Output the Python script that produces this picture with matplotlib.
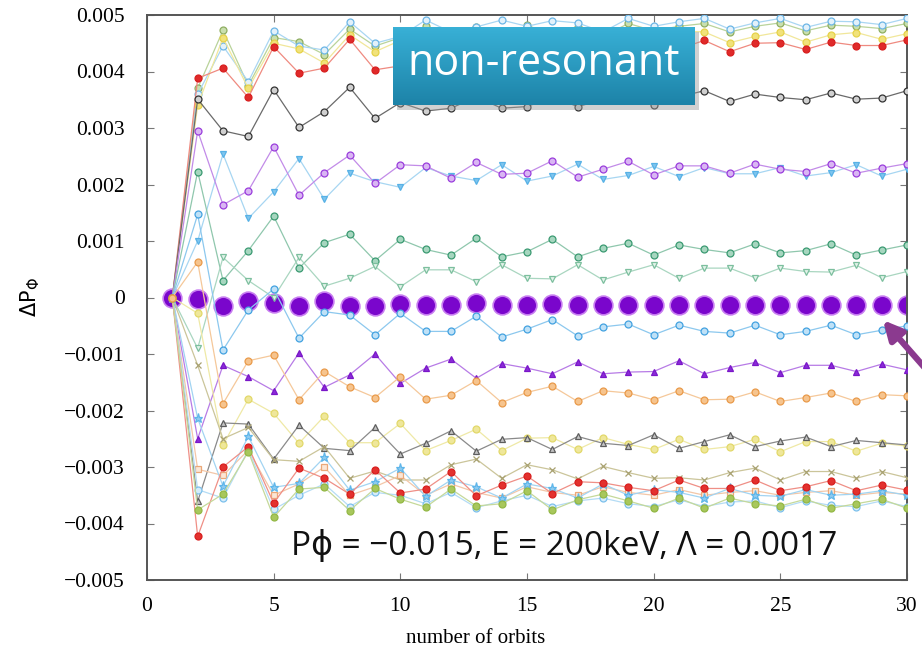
import numpy as np
import matplotlib
matplotlib.use("Agg")
import matplotlib.pyplot as plt
from matplotlib.patches import Rectangle
from matplotlib.colors import LinearSegmentedColormap

# number of orbits
orbits = list(range(1, 31))

# delta P_phi values, in units of 1e-3
top_lightblue = [0, 3.6, 4.45, 3.82, 4.72, 4.45, 4.38, 4.88, 4.5, 4.62, 4.91, 4.7, 4.79, 4.91, 4.8,
                 4.9, 4.86, 4.7, 4.94, 4.8, 4.88, 4.94, 4.75, 4.86, 4.94, 4.78, 4.89, 4.88, 4.83, 4.94]
top_olive = [0, 3.7, 4.73, 3.75, 4.6, 4.53, 4.3, 4.75, 4.45, 4.6, 4.8, 4.62, 4.78, 4.55, 4.82,
             4.65, 4.78, 4.62, 4.85, 4.72, 4.8, 4.85, 4.7, 4.8, 4.86, 4.72, 4.82, 4.8, 4.76, 4.85]
top_yellow = [0, 3.4, 4.6, 3.7, 4.5, 4.4, 4.15, 4.65, 4.35, 4.55, 4.7, 4.5, 4.7, 4.45, 4.7,
              4.55, 4.65, 4.5, 4.7, 4.6, 4.72, 4.7, 4.51, 4.62, 4.7, 4.52, 4.65, 4.69, 4.57, 4.67]
top_red = [0, 3.88, 4.06, 3.54, 4.44, 3.97, 4.06, 4.57, 4.03, 4.1, 4.3, 4.4, 4.55, 4.3, 4.5,
           4.45, 4.35, 4.5, 4.4, 4.52, 4.4, 4.55, 4.35, 4.5, 4.51, 4.39, 4.52, 4.46, 4.46, 4.56]
black_circ = [0, 3.51, 2.95, 2.85, 3.68, 3.01, 3.29, 3.72, 3.17, 3.45, 3.3, 3.35, 3.55, 3.35, 3.38,
              3.55, 3.38, 3.5, 3.6, 3.4, 3.55, 3.66, 3.47, 3.6, 3.54, 3.5, 3.62, 3.51, 3.53, 3.66]
purple_circ = [0, 2.95, 1.64, 1.89, 2.67, 1.81, 2.21, 2.52, 2.02, 2.35, 2.33, 2.11, 2.39, 2.18, 2.2,
               2.42, 2.13, 2.27, 2.41, 2.17, 2.33, 2.33, 2.2, 2.36, 2.27, 2.23, 2.37, 2.2, 2.29, 2.37]
lightblue_tri = [0, 1.0, 2.54, 1.4, 1.87, 2.46, 1.74, 2.2, 2.05, 1.95, 2.3, 2.15, 2.07, 2.35, 2.06,
                 2.15, 2.36, 2.09, 2.16, 2.32, 2.14, 2.3, 2.19, 2.19, 2.3, 2.15, 2.21, 2.35, 2.15, 2.27]
green_circ = [0, 2.23, 0.3, 0.83, 1.44, 0.52, 0.97, 1.12, 0.65, 1.03, 0.85, 0.75, 1.05, 0.72, 0.81,
              1.03, 0.72, 0.87, 0.96, 0.75, 0.93, 0.85, 0.79, 0.95, 0.79, 0.83, 0.95, 0.75, 0.84, 0.93]
green_tri = [0, -0.9, 0.71, 0.3, 0.0, 0.71, 0.2, 0.34, 0.55, 0.19, 0.49, 0.49, 0.28, 0.58, 0.34,
             0.33, 0.58, 0.31, 0.45, 0.58, 0.34, 0.52, 0.52, 0.35, 0.52, 0.46, 0.45, 0.57, 0.35, 0.46]
resonant_big = [0, -0.03, -0.15, -0.07, -0.1, -0.15, -0.07, -0.15, -0.15, -0.12, -0.14, -0.14, -0.1, -0.14, -0.13,
                -0.12, -0.14, -0.13, -0.13, -0.13, -0.13, -0.13, -0.13, -0.13, -0.13, -0.13, -0.13, -0.13, -0.13, -0.13]
lightblue_circ = [0, 1.47, -0.93, -0.22, 0.15, -0.72, -0.25, -0.31, -0.66, -0.28, -0.6, -0.6, -0.33, -0.7, -0.56,
                  -0.39, -0.68, -0.52, -0.47, -0.66, -0.49, -0.6, -0.63, -0.49, -0.66, -0.6, -0.49, -0.66, -0.58, -0.5]
purple_tri = [0, -2.5, -1.2, -1.4, -1.65, -0.98, -1.59, -1.37, -1.0, -1.52, -1.25, -1.09, -1.43, -1.17, -1.25,
              -1.35, -1.14, -1.35, -1.32, -1.31, -1.12, -1.35, -1.24, -1.15, -1.33, -1.2, -1.2, -1.31, -1.18, -1.28]
orange_circ = [0, 0.63, -1.88, -1.12, -1.02, -1.81, -1.31, -1.58, -1.77, -1.4, -1.8, -1.73, -1.47, -1.86, -1.68,
               -1.57, -1.84, -1.65, -1.69, -1.81, -1.65, -1.81, -1.8, -1.67, -1.84, -1.77, -1.69, -1.84, -1.72, -1.74]
yellow_circ = [0, -0.28, -2.61, -1.8, -2.05, -2.58, -2.1, -2.57, -2.57, -2.23, -2.71, -2.53, -2.33, -2.71, -2.49,
               -2.48, -2.69, -2.48, -2.6, -2.69, -2.51, -2.69, -2.64, -2.51, -2.73, -2.55, -2.55, -2.72, -2.58, -2.63]
gray_tri = [0, -3.61, -2.22, -2.24, -2.86, -2.26, -2.67, -2.71, -2.3, -2.77, -2.58, -2.36, -2.72, -2.51, -2.48,
            -2.69, -2.46, -2.58, -2.62, -2.43, -2.67, -2.55, -2.43, -2.64, -2.54, -2.47, -2.64, -2.53, -2.57, -2.61]
khaki_x = [0, -1.2, -2.5, -2.3, -2.87, -2.9, -2.64, -3.2, -3.07, -3.23, -3.23, -2.96, -2.86, -3.2, -2.96,
           -3.05, -3.21, -2.99, -3.1, -3.2, -3.19, -3.23, -3.1, -3.02, -3.23, -3.08, -3.08, -3.2, -3.08, -3.19]
orange_sq = [0, -3.04, -3.15, -2.7, -3.5, -3.3, -3.0, -3.5, -3.35, -3.15, -3.5, -3.3, -3.45, -3.55, -3.35,
             -3.45, -3.5, -3.35, -3.45, -3.5, -3.4, -3.5, -3.45, -3.42, -3.5, -3.45, -3.42, -3.5, -3.45, -3.48]
lightblue_star = [0, -2.14, -3.34, -2.46, -3.36, -3.29, -2.83, -3.41, -3.26, -3.02, -3.52, -3.23, -3.35, -3.55, -3.3,
                  -3.38, -3.55, -3.3, -3.5, -3.4, -3.45, -3.55, -3.38, -3.5, -3.52, -3.4, -3.5, -3.48, -3.42, -3.5]
lightblue_low = [0, -3.4, -3.55, -2.7, -3.75, -3.5, -3.3, -3.7, -3.45, -3.5, -3.65, -3.45, -3.72, -3.6, -3.5,
                 -3.7, -3.6, -3.55, -3.65, -3.7, -3.58, -3.7, -3.62, -3.6, -3.72, -3.6, -3.68, -3.7, -3.6, -3.7]
olive_fill = [0, -3.76, -3.48, -2.73, -3.89, -3.39, -3.36, -3.77, -3.38, -3.57, -3.71, -3.39, -3.69, -3.65, -3.42,
              -3.76, -3.58, -3.48, -3.6, -3.73, -3.55, -3.73, -3.55, -3.65, -3.69, -3.57, -3.73, -3.65, -3.57, -3.73]
red_low = [0, -4.23, -3.0, -2.64, -3.64, -3.02, -3.2, -3.48, -3.05, -3.46, -3.39, -3.08, -3.51, -3.32, -3.16,
           -3.47, -3.26, -3.28, -3.36, -3.42, -3.23, -3.38, -3.38, -3.23, -3.42, -3.35, -3.24, -3.42, -3.32, -3.41]

y_ticks = [-0.005, -0.004, -0.003, -0.002, -0.001, 0, 0.001, 0.002, 0.003, 0.004, 0.005]
y_tick_labels = ["\u22120.005", "\u22120.004", "\u22120.003", "\u22120.002", "\u22120.001", "0",
                 "0.001", "0.002", "0.003", "0.004", "0.005"]
x_ticks = [0, 5, 10, 15, 20, 25, 30]

# (values, line colour, marker, marker edge, marker face)
series = [
    (top_olive, "#b9d39a", "o", "#8fae62", "#c9dfae"),
    (top_lightblue, "#a9d6f2", "o", "#6cb6e6", "#e2f1fb"),
    (top_yellow, "#f1e79a", "o", "#e6d24a", "#f1e27a"),
    (top_red, "#ef8a80", "o", "#d81e1e", "#e02a2a"),
    (black_circ, "#6a6a6a", "o", "#333333", "#d0d0d0"),
    (lightblue_tri, "#a7d6f2", "v", "#57b1e6", "#7fc5ee"),
    (purple_circ, "#c28be8", "o", "#9a3ddc", "#d9b6f3"),
    (green_circ, "#8fc7ad", "o", "#3b9a72", "#a6d6bf"),
    (green_tri, "#a9d6c0", "v", "#7cbf9e", "#e3f3ea"),
    (lightblue_circ, "#8cc8ee", "o", "#43a2e0", "#bfe1f7"),
    (purple_tri, "#b77be6", "^", "#7a16c8", "#8a2bd8"),
    (yellow_circ, "#efe9a6", "o", "#e2d86a", "#efe79a"),
    (gray_tri, "#8a8a8a", "^", "#5e5e5e", "#c4c4c4"),
    (khaki_x, "#cbc59a", "x", "#a9a272", "#a9a272"),
    (orange_sq, "#f3c7a8", "s", "#eba878", "#fbe6d6"),
    (lightblue_low, "#b4dcf5", "o", "#7cc0ec", "#d6ecfa"),
    (lightblue_star, "#a2d4f2", "*", "#5fb6ea", "#8fcbf0"),
    (red_low, "#ef8f86", "o", "#d81e1e", "#e3312e"),
    (olive_fill, "#c5d99a", "o", "#93b845", "#a8c75c"),
    (orange_circ, "#f5c89a", "o", "#e99a4a", "#f6c48e"),
]


def draw_series(ax):
    x = np.array(orbits)
    ax.plot(x, np.array(resonant_big) * 1e-3, linestyle="none", marker="o", markersize=13.5,
            markerfacecolor="#7a06cc", markeredgecolor="#c77cf0", markeredgewidth=1.2, zorder=2)
    for vals, lc, mk, me, mf in series:
        ms = 6.5 if mk == "*" else 5
        ax.plot(x, np.array(vals) * 1e-3, color=lc, linewidth=0.9, marker=mk, markersize=ms,
                markeredgecolor=me, markerfacecolor=mf, markeredgewidth=0.9, zorder=3)


def style_axes(ax):
    ax.set_xlim(0, 30)
    ax.set_ylim(-0.005, 0.005)
    ax.set_xticks(x_ticks)
    ax.set_xticklabels([str(t) for t in x_ticks], family="Liberation Serif", fontsize=15.5)
    ax.set_yticks(y_ticks)
    ax.set_yticklabels(y_tick_labels, family="Liberation Serif", fontsize=15.5)
    ax.tick_params(direction="in", top=True, right=True, length=5, width=0.8, colors="#777777",
                   labelcolor="black")
    ax.tick_params(axis="y", pad=16)
    ax.tick_params(axis="x", pad=12)
    for sp in ax.spines.values():
        sp.set_color("#555555")
        sp.set_linewidth(1.4)
    ax.set_xlabel("number of orbits", family="Liberation Serif", fontsize=15)
    ax.xaxis.set_label_coords(0.432, -0.086)
    ax.set_ylabel(r"$\Delta\mathrm{P}_{\Phi}$", fontsize=15, labelpad=16)


def add_labels(fig, ax):
    # teal label box with soft shadow
    bx, by, bw, bh = 393 / 922, 1 - 105 / 652, 302 / 922, 78 / 652
    fig.patches.append(Rectangle((bx + 0.004, by - 0.007), bw, bh, transform=fig.transFigure,
                                 facecolor="#9a9a9a", alpha=0.45, edgecolor="none", zorder=1))
    box = fig.add_axes([bx, by, bw, bh], zorder=2)
    cmap = LinearSegmentedColormap.from_list("teal", ["#38b0d6", "#1d83a8"])
    box.imshow(np.linspace(0, 1, 64).reshape(-1, 1), aspect="auto", cmap=cmap)
    box.axis("off")
    fig.text(bx + bw / 2, by + bh / 2 + 0.004, "non-resonant", ha="center", va="center",
             color="white", fontsize=31, family=["Open Sans", "DejaVu Sans"], zorder=4)

    ax.text(5.7, -0.00455, "P\u03d5 = \u22120.015, E = 200keV, \u039b = 0.0017", fontsize=24,
            family=["Open Sans", "DejaVu Sans"], color="#111111", ha="left", va="baseline", zorder=5)

    ax.annotate("", xy=(29.05, -0.0004), xytext=(31.4, -0.0016), annotation_clip=False,
                arrowprops=dict(arrowstyle="-|>", color="#8b3a8f", lw=4.5, mutation_scale=28,
                                shrinkA=0, shrinkB=0), zorder=6)


if __name__ == "__main__":
    fig = plt.figure(figsize=(9.22, 6.52), dpi=100)
    ax = fig.add_axes([147 / 922, 1 - 580 / 652, 760 / 922, 565 / 652])
    draw_series(ax)
    style_axes(ax)
    add_labels(fig, ax)
    fig.savefig("out.png", dpi=100)
